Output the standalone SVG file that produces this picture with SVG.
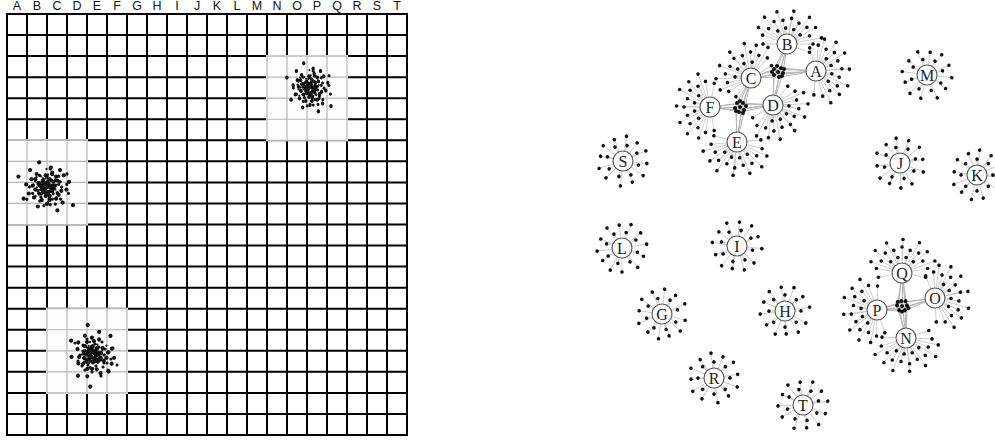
<svg xmlns="http://www.w3.org/2000/svg" xmlns:xlink="http://www.w3.org/1999/xlink" width="995" height="440" viewBox="0 0 995 440">
<style>
.gl{font-family:"Liberation Sans",Arial,sans-serif;font-size:12.5px;fill:#111;text-anchor:middle}
.grid{stroke:#000;stroke-width:2;fill:none;stroke-linecap:square}
.reg{fill:#fdfdfd;stroke:none}
.lg{stroke:#b8b8b8;stroke-width:1.2;fill:none}
.nc{fill:#fff;stroke:#555;stroke-width:1.1}
.nl{font-family:"Liberation Serif","Times New Roman",serif;font-size:16px;fill:#222;text-anchor:middle}
.cn{stroke:#b4b4b4;stroke-width:1;fill:none}
</style>
<defs>
<g id="cl" fill="#111">
<circle cx="1" cy="-2" r="1.6"/><circle cx="-3" cy="4" r="1.6"/><circle cx="5" cy="1" r="1.6"/><circle cx="-6" cy="-3" r="1.6"/><circle cx="2" cy="7" r="1.6"/>
<circle cx="-1" cy="-9" r="1.6"/><circle cx="8" cy="-5" r="1.6"/><circle cx="-9" cy="2" r="1.6"/><circle cx="4" cy="-11" r="1.6"/><circle cx="-4" cy="10" r="1.6"/>
<circle cx="11" cy="3" r="1.6"/><circle cx="-12" cy="-6" r="1.6"/><circle cx="0" cy="13" r="1.6"/><circle cx="7" cy="9" r="1.6"/><circle cx="-8" cy="-10" r="1.6"/>
<circle cx="13" cy="-9" r="1.6"/><circle cx="-14" cy="5" r="1.6"/><circle cx="3" cy="-15" r="1.6"/><circle cx="-2" cy="1" r="1.6"/><circle cx="6" cy="-1" r="1.6"/>
<circle cx="-5" cy="-1" r="1.6"/><circle cx="1" cy="4" r="1.6"/><circle cx="-3" cy="-5" r="1.6"/><circle cx="9" cy="6" r="1.6"/><circle cx="-10" cy="8" r="1.6"/>
<circle cx="15" cy="2" r="1.6"/><circle cx="-16" cy="-2" r="1.6"/><circle cx="10" cy="-13" r="1.6"/><circle cx="-7" cy="15" r="1.6"/><circle cx="2" cy="-6" r="1.6"/>
<circle cx="-1" cy="7" r="1.6"/><circle cx="4" cy="3" r="1.6"/><circle cx="-6" cy="5" r="1.6"/><circle cx="7" cy="-8" r="1.6"/><circle cx="-11" cy="-1" r="1.6"/>
<circle cx="12" cy="12" r="1.6"/><circle cx="-13" cy="-13" r="1.6"/><circle cx="0" cy="-3" r="1.6"/><circle cx="3" cy="0" r="1.6"/><circle cx="-2" cy="-2" r="1.6"/>
<circle cx="5" cy="-4" r="1.6"/><circle cx="-4" cy="2" r="1.6"/><circle cx="2" cy="10" r="1.6"/><circle cx="-9" cy="-6" r="1.6"/><circle cx="17" cy="-4" r="1.6"/>
<circle cx="-18" cy="9" r="1.6"/><circle cx="8" cy="18" r="1.6"/><circle cx="-6" cy="-19" r="1.6"/><circle cx="20" cy="14" r="1.6"/><circle cx="-22" cy="-8" r="1.6"/>
</g>
<g id="star">
<path stroke="#c4c4c4" stroke-width=".8" fill="none" d="M0 0L23.9 2.1M0 0L21 13.6M0 0L10.8 20.3M0 0L.9 25M0 0L-10.8 20.3M0 0L-21.2 13.2M0 0L-23 .8M0 0L-22.5 -11M0 0L-13.4 -19.9M0 0L-1.7 -24.9M0 0L10.1 -20.7M0 0L20.7 -14M0 0L15 5.5M0 0L6.8 14.5M0 0L-5.5 15M0 0L-14.5 6.8M0 0L-15 -5.5M0 0L-6.8 -14.5M0 0L5.5 -15M0 0L14.5 -6.8"/>
<g fill="#111">
<circle cx="23.9" cy="2.1" r="1.8"/><circle cx="21" cy="13.6" r="1.8"/><circle cx="10.8" cy="20.3" r="1.8"/><circle cx=".9" cy="25" r="1.8"/><circle cx="-10.8" cy="20.3" r="1.8"/><circle cx="-21.2" cy="13.2" r="1.8"/>
<circle cx="-23" cy=".8" r="1.8"/><circle cx="-22.5" cy="-11" r="1.8"/><circle cx="-13.4" cy="-19.9" r="1.8"/><circle cx="-1.7" cy="-24.9" r="1.8"/><circle cx="10.1" cy="-20.7" r="1.8"/><circle cx="20.7" cy="-14" r="1.8"/>
<circle cx="15" cy="5.5" r="1.8"/><circle cx="6.8" cy="14.5" r="1.8"/><circle cx="-5.5" cy="15" r="1.8"/><circle cx="-14.5" cy="6.8" r="1.8"/><circle cx="-15" cy="-5.5" r="1.8"/><circle cx="-6.8" cy="-14.5" r="1.8"/><circle cx="5.5" cy="-15" r="1.8"/><circle cx="14.5" cy="-6.8" r="1.8"/>
</g>
</g>
<g id="fan">
<path stroke="#c4c4c4" stroke-width=".8" fill="none" d="M0 0L11.3 -11.3M0 0L15.5 -4.1M0 0L15.5 4.1M0 0L11.3 11.3M0 0L-4.2 -23.6M0 0L4.5 -25.6M0 0L12 -20.8M0 0L19.9 -16.7M0 0L22.6 -8.2M0 0L26 0M0 0L22.6 8.2M0 0L19.9 16.7M0 0L12 20.8M0 0L4.5 25.6M0 0L-4.2 23.6M0 0L11.3 -31M0 0L22.5 -26.8M0 0L30 -15.5M0 0L33.5 1M0 0L30.3 17.5M0 0L21.2 25.3M0 0L12 32.9"/>
<g fill="#111">
<circle cx="11.3" cy="-11.3" r="1.8"/><circle cx="15.5" cy="-4.1" r="1.8"/><circle cx="15.5" cy="4.1" r="1.8"/><circle cx="11.3" cy="11.3" r="1.8"/>
<circle cx="-4.2" cy="-23.6" r="1.8"/><circle cx="4.5" cy="-25.6" r="1.8"/><circle cx="12" cy="-20.8" r="1.8"/><circle cx="19.9" cy="-16.7" r="1.8"/><circle cx="22.6" cy="-8.2" r="1.8"/><circle cx="26" cy="0" r="1.8"/>
<circle cx="22.6" cy="8.2" r="1.8"/><circle cx="19.9" cy="16.7" r="1.8"/><circle cx="12" cy="20.8" r="1.8"/><circle cx="4.5" cy="25.6" r="1.8"/><circle cx="-4.2" cy="23.6" r="1.8"/>
<circle cx="11.3" cy="-31" r="1.8"/><circle cx="22.5" cy="-26.8" r="1.8"/><circle cx="30" cy="-15.5" r="1.8"/><circle cx="33.5" cy="1" r="1.8"/><circle cx="30.3" cy="17.5" r="1.8"/><circle cx="21.2" cy="25.3" r="1.8"/><circle cx="12" cy="32.9" r="1.8"/>
</g>
</g>
<g id="hub" fill="#111">
<circle cx="0" cy="0" r="2"/><circle cx="-4" cy="-3" r="2"/><circle cx="3" cy="-4" r="2"/><circle cx="5" cy="1" r="2"/><circle cx="-4" cy="3" r="2"/>
<circle cx="1" cy="5" r="2"/><circle cx="-1" cy="-6" r="2"/><circle cx="6" cy="-3" r="2"/><circle cx="-6" cy="0" r="2"/><circle cx="4" cy="4" r="2"/>
</g>
</defs>
<rect width="995" height="440" fill="#fff"/>
<g id="grid">
<g id="col-labels" class="gl">
<text x="17" y="10">A</text><text x="37" y="10">B</text><text x="57" y="10">C</text><text x="77" y="10">D</text><text x="97" y="10">E</text>
<text x="117" y="10">F</text><text x="137" y="10">G</text><text x="157" y="10">H</text><text x="177" y="10">I</text><text x="197" y="10">J</text>
<text x="217" y="10">K</text><text x="237" y="10">L</text><text x="257" y="10">M</text><text x="277" y="10">N</text><text x="297" y="10">O</text>
<text x="317" y="10">P</text><text x="337" y="10">Q</text><text x="357" y="10">R</text><text x="377" y="10">S</text><text x="397" y="10">T</text>
</g>
<path class="grid" d="M7 14V435M27 14V435M47 14V435M67 14V435M87 14V435M107 14V435M127 14V435M147 14V435M167 14V435M187 14V435M207 14V435M227 14V435M247 14V435M267 14V435M287 14V435M307 14V435M327 14V435M347 14V435M367 14V435M387 14V435M407 14V435M7 14H407M7 35.05H407M7 56.1H407M7 77.15H407M7 98.2H407M7 119.25H407M7 140.3H407M7 161.35H407M7 182.4H407M7 203.45H407M7 224.5H407M7 245.55H407M7 266.6H407M7 287.65H407M7 308.7H407M7 329.75H407M7 350.8H407M7 371.85H407M7 392.9H407M7 413.95H407M7 435H407"/>
<rect class="reg" x="266" y="55.1" width="82" height="86.2"/>
<path class="lg" d="M267 56.1V140.3M287 56.1V140.3M307 56.1V140.3M327 56.1V140.3M347 56.1V140.3M267 56.1H347M267 77.15H347M267 98.2H347M267 119.25H347M267 140.3H347"/>
<rect class="reg" x="8" y="139.3" width="80" height="86.2"/>
<path class="lg" d="M27 140.3V224.5M47 140.3V224.5M67 140.3V224.5M87 140.3V224.5M7 140.3H87M7 161.35H87M7 182.4H87M7 203.45H87M7 224.5H87"/>
<path class="grid" d="M7 139.3V225.5"/>
<rect class="reg" x="46" y="307.7" width="82" height="86.2"/>
<path class="lg" d="M47 308.7V392.9M67 308.7V392.9M87 308.7V392.9M107 308.7V392.9M127 308.7V392.9M47 308.7H127M47 329.75H127M47 350.8H127M47 371.85H127M47 392.9H127"/>
<g id="cluster-1">
<use xlink:href="#cl" href="#cl" transform="translate(310,88) scale(1.05,1.3)"/>
<use xlink:href="#cl" href="#cl" transform="translate(312,90) rotate(120) scale(.95)"/>
<use xlink:href="#cl" href="#cl" transform="translate(308,86) rotate(240) scale(.65)"/>
</g>
<g id="cluster-2">
<use xlink:href="#cl" href="#cl" transform="translate(47,187) scale(1.3)"/>
<use xlink:href="#cl" href="#cl" transform="translate(49,189) rotate(120) scale(1)"/>
<use xlink:href="#cl" href="#cl" transform="translate(45,186) rotate(240) scale(.7)"/>
</g>
<g id="cluster-3">
<use xlink:href="#cl" href="#cl" transform="translate(93,355) rotate(60) scale(1.3)"/>
<use xlink:href="#cl" href="#cl" transform="translate(95,357) rotate(180) scale(1)"/>
<use xlink:href="#cl" href="#cl" transform="translate(91,353) rotate(300) scale(.7)"/>
</g>
</g>
<g id="connectors">
<path class="cn" d="M774 69L787 44M781 68L787 44M783 73L787 44M774 75L787 44M779 77L787 44"/>
<path class="cn" d="M774 69L816 71M781 68L816 71M783 73L816 71M774 75L816 71M779 77L816 71"/>
<path class="cn" d="M774 69L751 78M781 68L751 78M783 73L751 78M774 75L751 78M779 77L751 78"/>
<path class="cn" d="M774 69L773 105M781 68L773 105M783 73L773 105M774 75L773 105M779 77L773 105"/>
<path class="cn" d="M736 104L751 78M743 103L751 78M745 108L751 78M736 110L751 78M741 112L751 78"/>
<path class="cn" d="M736 104L710 107M743 103L710 107M745 108L710 107M736 110L710 107M741 112L710 107"/>
<path class="cn" d="M736 104L773 105M743 103L773 105M745 108L773 105M736 110L773 105M741 112L773 105"/>
<path class="cn" d="M736 104L737 142M743 103L737 142M745 108L737 142M736 110L737 142M741 112L737 142"/>
<path class="cn" d="M898 303L902 273M905 302L902 273M907 307L902 273M898 309L902 273M903 311L902 273"/>
<path class="cn" d="M898 303L935 298M905 302L935 298M907 307L935 298M898 309L935 298M903 311L935 298"/>
<path class="cn" d="M898 303L877 310M905 302L877 310M907 307L877 310M898 309L877 310M903 311L877 310"/>
<path class="cn" d="M898 303L906 338M905 302L906 338M907 307L906 338M898 309L906 338M903 311L906 338"/>
</g>
<g id="hub-1"><use xlink:href="#hub" href="#hub" transform="translate(778,72)"/></g>
<g id="hub-2"><use xlink:href="#hub" href="#hub" transform="translate(740,107) rotate(90)"/></g>
<g id="hub-3"><use xlink:href="#hub" href="#hub" transform="translate(902,306) rotate(45)"/></g>
<g id="node-A"><use xlink:href="#fan" href="#fan" transform="translate(816,71) rotate(-5)"/><circle class="nc" cx="816" cy="71" r="10"/><text class="nl" x="816" y="76.5">A</text></g>
<g id="node-B"><use xlink:href="#fan" href="#fan" transform="translate(787,44) rotate(-80)"/><circle class="nc" cx="787" cy="44" r="10"/><text class="nl" x="787" y="49.5">B</text></g>
<g id="node-C"><use xlink:href="#fan" href="#fan" transform="translate(751,78) rotate(-131)"/><circle class="nc" cx="751" cy="78" r="10"/><text class="nl" x="751" y="83.5">C</text></g>
<g id="node-D"><use xlink:href="#fan" href="#fan" transform="translate(773,105) rotate(48)"/><circle class="nc" cx="773" cy="105" r="10"/><text class="nl" x="773" y="110.5">D</text></g>
<g id="node-E"><use xlink:href="#fan" href="#fan" transform="translate(737,142) rotate(95)"/><circle class="nc" cx="737" cy="142" r="10"/><text class="nl" x="737" y="147.5">E</text></g>
<g id="node-F"><use xlink:href="#fan" href="#fan" transform="translate(710,107) rotate(180)"/><circle class="nc" cx="710" cy="107" r="10"/><text class="nl" x="710" y="112.5">F</text></g>
<g id="node-G"><use xlink:href="#star" href="#star" transform="translate(662,314) rotate(10)"/><circle class="nc" cx="662" cy="314" r="10"/><text class="nl" x="662" y="319.5">G</text></g>
<g id="node-H"><use xlink:href="#star" href="#star" transform="translate(785,311) rotate(25)"/><circle class="nc" cx="785" cy="311" r="10"/><text class="nl" x="785" y="316.5">H</text></g>
<g id="node-I"><use xlink:href="#star" href="#star" transform="translate(737,246) rotate(40)"/><circle class="nc" cx="737" cy="246" r="10"/><text class="nl" x="737" y="251.5">I</text></g>
<g id="node-J"><use xlink:href="#star" href="#star" transform="translate(900,163) rotate(55)"/><circle class="nc" cx="900" cy="163" r="10"/><text class="nl" x="900" y="168.5">J</text></g>
<g id="node-K"><use xlink:href="#star" href="#star" transform="translate(977,175) rotate(70)"/><circle class="nc" cx="977" cy="175" r="10"/><text class="nl" x="977" y="180.5">K</text></g>
<g id="node-L"><use xlink:href="#star" href="#star" transform="translate(622,248) rotate(85)"/><circle class="nc" cx="622" cy="248" r="10"/><text class="nl" x="622" y="253.5">L</text></g>
<g id="node-M"><use xlink:href="#star" href="#star" transform="translate(927,75) rotate(100)"/><circle class="nc" cx="927" cy="75" r="10"/><text class="nl" x="927" y="80.5">M</text></g>
<g id="node-N"><use xlink:href="#fan" href="#fan" transform="translate(906,338) rotate(82)"/><circle class="nc" cx="906" cy="338" r="10"/><text class="nl" x="906" y="343.5">N</text></g>
<g id="node-O"><use xlink:href="#fan" href="#fan" transform="translate(935,298) rotate(-13)"/><circle class="nc" cx="935" cy="298" r="10"/><text class="nl" x="935" y="303.5">O</text></g>
<g id="node-P"><use xlink:href="#fan" href="#fan" transform="translate(877,310) rotate(171)"/><circle class="nc" cx="877" cy="310" r="10"/><text class="nl" x="877" y="315.5">P</text></g>
<g id="node-Q"><use xlink:href="#fan" href="#fan" transform="translate(902,273) rotate(-90)"/><circle class="nc" cx="902" cy="273" r="10"/><text class="nl" x="902" y="278.5">Q</text></g>
<g id="node-R"><use xlink:href="#star" href="#star" transform="translate(714,378) rotate(115)"/><circle class="nc" cx="714" cy="378" r="10"/><text class="nl" x="714" y="383.5">R</text></g>
<g id="node-S"><use xlink:href="#star" href="#star" transform="translate(623,161) rotate(130)"/><circle class="nc" cx="623" cy="161" r="10"/><text class="nl" x="623" y="166.5">S</text></g>
<g id="node-T"><use xlink:href="#star" href="#star" transform="translate(803,405) rotate(145)"/><circle class="nc" cx="803" cy="405" r="10"/><text class="nl" x="803" y="410.5">T</text></g>
</svg>
